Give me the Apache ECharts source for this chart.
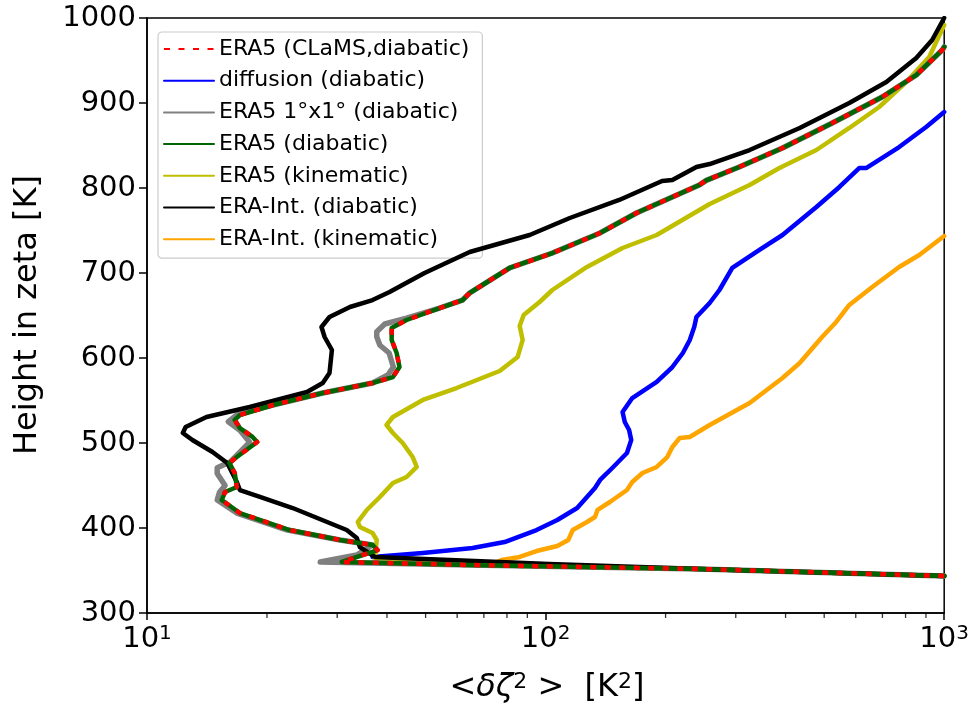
<!DOCTYPE html>
<html lang="en">
  <head>
    <meta charset="UTF-8" />
    <title>zeta variance profiles</title>
    <script src="https://cdn.jsdelivr.net/npm/echarts@6/dist/echarts.min.js"></script>
    <style>
      html, body { margin: 0; padding: 0; background: #fff; }
      #main { width: 972px; height: 704px; }
    </style>
  </head>
  <body>
    <div id="main"></div>
    <script>
      // x = <dzeta^2> [K^2], h = height in zeta [K]
      var clamsX = [1000, 243, 64.5, 30.8, 37.9, 36.8, 30.5, 22.8, 17.1, 15.4, 15.7, 16.8, 16.6, 16.1, 16.8, 18.9, 18.4, 17.1, 16.6, 17.1, 20.7, 27.6, 36.8, 41.4, 43.0, 42.3, 41.1, 41.1, 44.8, 54.2, 61.9, 64.5, 81.2, 104, 137, 169, 243, 253, 306, 393, 524, 699, 851, 989, 1000];
      var clamsH = [343.5, 351.8, 356.5, 360.0, 374.1, 380.0, 385.9, 397.6, 417.6, 432.9, 442.4, 448.2, 464.7, 476.5, 483.5, 501.2, 507.1, 517.6, 527.1, 532.9, 544.7, 558.8, 570.6, 577.6, 589.4, 605.9, 621.2, 635.3, 644.7, 658.8, 668.2, 676.5, 705.9, 723.5, 747.1, 770.6, 803.5, 809.0, 824.7, 847.1, 876.5, 907.1, 932.9, 962.4, 966];

      var diffX = [36.8, 49.2, 65.6, 78.9, 94.9, 107, 120, 127, 133, 137, 147, 160, 164, 162, 158, 156, 165, 190, 208, 221, 230, 236, 239, 258, 273, 294, 344, 393, 478, 546, 612, 637, 771, 901, 1000];
      var diffH = [365.9, 370.6, 376.5, 383.5, 397.6, 409.4, 423.5, 436.5, 447.1, 456.5, 470.6, 488.2, 503.5, 515.3, 524.7, 536.5, 552.9, 571.8, 589.4, 605.9, 621.2, 636.5, 648.2, 664.7, 680.0, 705.9, 727.1, 744.7, 777.6, 801.2, 823.5, 823.5, 848.2, 871.8, 889.4];

      var era5GridX = [1000, 243, 64.5, 27.2, 33.6, 36.8, 30.5, 22.5, 16.8, 15.0, 15.2, 15.7, 15.0, 15.0, 16.2, 18.1, 17.1, 16.0, 16.8, 20.7, 27.6, 36.8, 40.2, 41.5, 40.5, 38.4, 37.7, 37.7, 39.5, 44.8, 54.2, 61.9, 64.5, 81.2, 104, 137, 169, 243, 253, 306, 393, 524, 699, 851, 989, 1000];
      var era5GridH = [343.5, 351.8, 356.5, 360.0, 368.2, 380.0, 385.9, 397.6, 417.6, 432.9, 442.0, 450.0, 464.0, 471.0, 478.0, 501.0, 515.0, 525.0, 533.0, 544.7, 558.8, 570.6, 580.0, 589.4, 605.9, 615.0, 625.0, 631.0, 640.0, 647.0, 658.8, 668.2, 676.5, 705.9, 723.5, 747.1, 770.6, 803.5, 809.0, 824.7, 847.1, 876.5, 907.1, 932.9, 962.4, 966];

      var era5DiabX = [1000, 243, 64.5, 30.8, 37.9, 36.8, 30.5, 22.8, 17.1, 15.4, 15.7, 16.8, 16.6, 16.1, 16.8, 18.9, 18.4, 17.1, 16.6, 17.1, 20.7, 27.6, 36.8, 41.4, 43.0, 42.3, 41.1, 41.1, 44.8, 54.2, 61.9, 64.5, 81.2, 104, 137, 169, 243, 253, 306, 393, 524, 699, 851, 989, 1000];
      var era5DiabH = [343.5, 351.8, 356.5, 360.0, 374.1, 380.0, 385.9, 397.6, 417.6, 432.9, 442.4, 448.2, 464.7, 476.5, 483.5, 501.2, 507.1, 517.6, 527.1, 532.9, 544.7, 558.8, 570.6, 577.6, 589.4, 605.9, 621.2, 635.3, 644.7, 658.8, 668.2, 676.5, 705.9, 723.5, 747.1, 770.6, 803.5, 809.0, 824.7, 847.1, 876.5, 907.1, 932.9, 962.4, 966];

      var era5KinX = [1000, 243, 64.5, 37.3, 37.7, 36.8, 34.2, 33.8, 35.6, 38.4, 41.4, 44.8, 47.5, 46.4, 43.8, 41.4, 39.9, 41.4, 49.2, 59.8, 76.7, 85.1, 87.6, 86.1, 88.1, 96.6, 104, 127, 156, 190, 258, 325, 386, 478, 578, 687, 803, 917, 1000];
      var era5KinH = [343.5, 351.8, 356.5, 364.7, 385.9, 394.1, 401.2, 407.1, 421.2, 436.5, 452.9, 460.0, 471.8, 483.5, 500.0, 511.8, 521.2, 530.6, 550.6, 564.7, 584.7, 601.2, 621.2, 637.6, 650.6, 665.9, 680.0, 707.1, 729.4, 744.7, 781.2, 803.5, 823.5, 844.7, 870.6, 895.3, 924.7, 954.1, 991.8];

      var eiDiabX = [1000, 243, 102, 57.5, 37.3, 34.2, 33.6, 31.7, 28.3, 23.2, 19.2, 17.1, 16.8, 15.9, 14.6, 13.0, 12.3, 12.5, 14.1, 18.1, 25.2, 27.6, 28.7, 29.1, 27.9, 27.4, 28.7, 32.3, 36.8, 40.6, 49.7, 64.5, 91.2, 115, 153, 196, 208, 239, 258, 325, 434, 578, 716, 851, 933, 1000];
      var eiDiabH = [343.5, 351.8, 357.6, 362.4, 365.9, 377.6, 388.2, 397.6, 407.1, 423.5, 436.5, 444.7, 454.1, 476.5, 489.4, 503.5, 511.8, 518.8, 530.6, 542.4, 560.0, 570.6, 582.4, 609.4, 624.7, 636.5, 648.2, 660.0, 668.2, 677.6, 700.0, 724.7, 744.7, 764.7, 785.9, 808.2, 809.4, 824.7, 828.2, 844.7, 870.6, 900.0, 924.7, 952.9, 974.1, 1000];

      var eiKinX = [1000, 243, 72.4, 77.6, 86.1, 94.9, 107, 114, 117, 127, 133, 135, 145, 160, 165, 175, 190, 202, 208, 217, 230, 258, 325, 393, 434, 494, 536, 578, 660, 771, 866, 1000];
      var eiKinH = [343.5, 351.8, 356.5, 362.4, 365.9, 372.9, 378.8, 385.9, 397.6, 407.1, 412.9, 421.2, 430.6, 444.7, 454.1, 464.7, 471.8, 483.5, 495.3, 505.9, 507.1, 521.2, 547.1, 576.5, 594.1, 624.7, 642.4, 662.4, 683.5, 707.1, 721.2, 743.5];

      var legendNames = ["ERA5 (CLaMS,diabatic)", "diffusion (diabatic)", "ERA5 1°x1° (diabatic)", "ERA5 (diabatic)", "ERA5 (kinematic)", "ERA-Int. (diabatic)", "ERA-Int. (kinematic)"];
      var minorTicks = [20, 30, 40, 50, 60, 70, 80, 90, 200, 300, 400, 500, 600, 700, 800, 900];
      var supDigits = { 1: "1", 2: "2", 3: "3" };

      var font = "DejaVu Sans";

      function pairs(xs, hs) {
        return xs.map(function (x, i) {
          return [x, hs[i]];
        });
      }

      function mkLine(name, xs, hs, color, width, z, dash) {
        return {
          name: name,
          type: "line",
          data: pairs(xs, hs),
          symbol: "none",
          showSymbol: false,
          color: color,
          z: z,
          lineStyle: {
            color: color,
            width: width,
            type: dash || "solid",
            join: "round",
            cap: dash ? "butt" : "round",
          },
        };
      }

      var chart = echarts.init(document.getElementById("main"));

      var option = {
        animation: false,
        backgroundColor: "#fff",
        textStyle: { fontFamily: font },
        grid: {
          left: 147,
          right: 27,
          top: 18,
          bottom: 91,
          show: true,
          borderColor: "#000",
          borderWidth: 1.5,
          backgroundColor: "transparent",
        },
        legend: {
          data: legendNames,
          orient: "vertical",
          left: 158,
          top: 32,
          itemWidth: 50,
          itemHeight: 14,
          itemGap: 7.7,
          itemTextGap: 23,
          padding: [5, 13, 7, 5],
          backgroundColor: "rgba(255,255,255,0.8)",
          borderColor: "#cccccc",
          borderWidth: 1.2,
          borderRadius: 4,
          itemStyle: { opacity: 0 },
          textStyle: { fontFamily: font, fontSize: 22, lineHeight: 24, color: "#000" },
        },
        xAxis: {
          type: "log",
          logBase: 10,
          min: 10,
          max: 1000,
          axisLine: { lineStyle: { color: "#000", width: 1.5 } },
          axisTick: { length: 7, lineStyle: { color: "#000", width: 1.5 } },
          splitLine: { show: false },
          axisLabel: {
            margin: 11,
            color: "#000",
            formatter: function (v) {
              var e = Math.round(Math.log10(v));
              return "{a|10}{b|" + supDigits[e] + "}";
            },
            rich: {
              a: { fontFamily: font, fontSize: 29, lineHeight: 30, color: "#000" },
              b: { fontFamily: font, fontSize: 20, lineHeight: 18, verticalAlign: "top", color: "#000" },
            },
          },
        },
        yAxis: {
          type: "value",
          min: 300,
          max: 1000,
          interval: 100,
          axisLine: { show: true, lineStyle: { color: "#000", width: 1.5 } },
          axisTick: { show: true, length: 8, lineStyle: { color: "#000", width: 1.5 } },
          splitLine: { show: false },
          axisLabel: {
            margin: 11,
            color: "#000",
            fontFamily: font,
            fontSize: 29,
            formatter: function (v) { return String(v); },
          },
        },
        graphic: [
          {
            type: "text",
            x: 28,
            y: 315,
            rotation: Math.PI / 2,
            style: {
              text: "Height in zeta [K]",
              fontFamily: font,
              fontSize: 32,
              fill: "#000",
              align: "center",
              verticalAlign: "middle",
            },
          },
          {
            type: "text",
            x: 547,
            y: 688,
            style: {
              text: "<{i|δζ}{s|2} >  [K{s|2}]",
              fontFamily: font,
              fontSize: 32,
              fill: "#000",
              align: "center",
              verticalAlign: "middle",
              rich: {
                i: { fontFamily: font, fontSize: 32, fontStyle: "italic", lineHeight: 34 },
                s: { fontFamily: font, fontSize: 22, lineHeight: 20, verticalAlign: "top" },
              },
            },
          },
        ],
        series: [
          mkLine(legendNames[6], eiKinX, eiKinH, "#ffa500", 4.5, 2),
          mkLine(legendNames[1], diffX, diffH, "#0000ff", 4.5, 3),
          mkLine(legendNames[4], era5KinX, era5KinH, "#bfbf00", 4.5, 4),
          mkLine(legendNames[2], era5GridX, era5GridH, "#808080", 5.5, 5),
          mkLine(legendNames[5], eiDiabX, eiDiabH, "#000000", 4.5, 6),
          mkLine(legendNames[3], era5DiabX, era5DiabH, "#006400", 4.5, 7),
          mkLine(legendNames[0], clamsX, clamsH, "#ff0000", 4.5, 8, [6, 8.5]),
          {
            // minor ticks of the log x axis, hung just below the bottom axis line
            name: "minor ticks",
            type: "scatter",
            data: minorTicks.map(function (t) { return [t, 300]; }),
            symbol: "rect",
            symbolSize: [1.3, 5],
            symbolOffset: [0, 2.5],
            clip: false,
            silent: true,
            z: 10,
            itemStyle: { color: "#000" },
          },
        ],
      };

      chart.setOption(option);
    </script>
  </body>
</html>
